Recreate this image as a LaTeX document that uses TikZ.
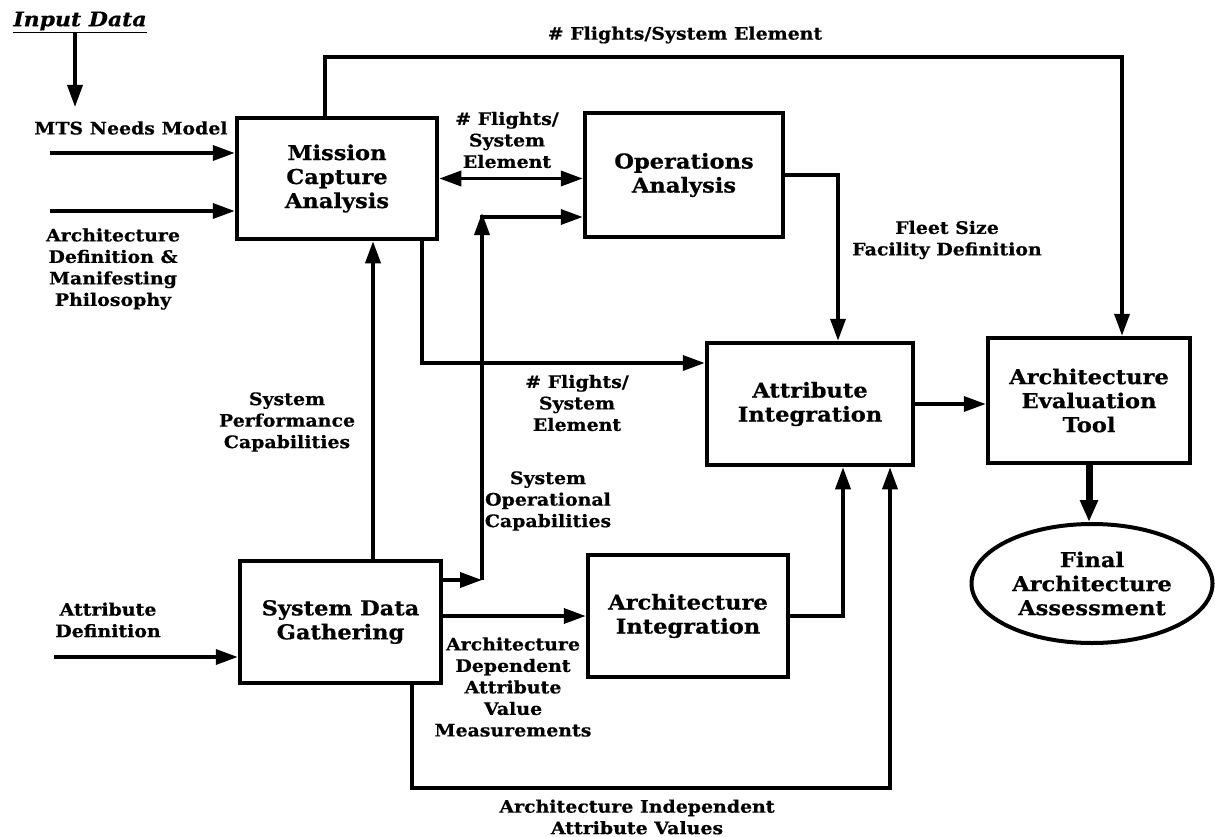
\documentclass[tikz,border=0pt]{standalone}
\usepackage{fontspec}
\setmainfont{DejaVu Serif}
\newfontfamily\heavy[FakeStretch=1.1,FakeBold=0.6]{DejaVu Serif}
\usetikzlibrary{arrows.meta,shapes.geometric}
\tikzset{
  box/.style={draw, line width=4.5pt, rectangle, align=center, inner sep=0pt,
    font=\heavy\bfseries\fontsize{20.5}{24}\selectfont},
  oval/.style={draw, line width=4pt, ellipse, align=center, inner sep=0pt,
    font=\heavy\bfseries\fontsize{20.5}{24}\selectfont},
  lbl/.style={align=center, inner sep=0pt, font=\heavy\bfseries\fontsize{17.2}{21.5}\selectfont},
  arr/.style={line width=3.6pt, -{Triangle[length=22pt,width=15pt]}},
  biarr/.style={line width=3.6pt, {Triangle[length=22pt,width=15pt]}-{Triangle[length=22pt,width=15pt]}},
  thickarr/.style={line width=7pt, -{Triangle[length=22pt,width=17pt]}},
}
\begin{document}
\begin{tikzpicture}[x=1pt,y=-1pt]
\useasboundingbox[fill=white] (0,0) rectangle (1215,837);

% boxes
\node[box, minimum width=200pt, minimum height=121pt] (mca) at (337,178.5) {Mission\\Capture\\Analysis};
\node[box, minimum width=198pt, minimum height=124pt] (ops) at (684,175) {Operations\\Analysis};
\node[box, minimum width=206pt, minimum height=122pt] (attr) at (810,404) {Attribute\\Integration};
\node[box, minimum width=202pt, minimum height=125pt] (aet) at (1089,400.5) {Architecture\\Evaluation\\Tool};
\node[box, minimum width=201pt, minimum height=122pt] (sdg) at (340.5,622) {System Data\\Gathering};
\node[box, minimum width=200pt, minimum height=122pt] (ai) at (688,616) {Architecture\\Integration};
\node[oval, minimum width=241pt, minimum height=119pt] (final) at (1092,583.5) {Final\\Architecture\\Assessment};

% input labels
\node[inner sep=0pt, font=\heavy\bfseries\itshape\fontsize{20}{22}\selectfont] (input) at (80,22) {\underline{Input Data}};
\node[lbl] (mtsl) at (131,128) {MTS Needs Model};
\node[lbl] (adl) at (113,269) {Architecture\\Definition \&\\Manifesting\\Philosophy};
\node[lbl] (attrdl) at (108,620) {Attribute\\Definition};

% connector labels
\node[lbl] (l1) at (685,35) {\# Flights/System Element};
\node[lbl] (l2) at (507,140) {\# Flights/\\System\\Element};
\node[lbl] (l3) at (947,240) {Fleet Size\\Facility Definition};
\node[lbl] (l4) at (577,403) {\# Flights/\\System\\Element};
\node[lbl] (l5) at (287,422) {System\\Performance\\Capabilities};
\node[lbl] (l6) at (548,501) {System\\Operational\\Capabilities};
\node[lbl] (l7) at (513,687) {Architecture\\Dependent\\Attribute\\Value\\Measurements};
\node[lbl] (l8) at (637,817) {Architecture Independent\\Attribute Values};

% helper coordinates
\coordinate (inEnd) at (75,107);
\coordinate (mtsS) at (50,153);
\coordinate (adS) at (50,211);
\coordinate (atS) at (54,657);
\coordinate (t1) at (325,57);
\coordinate (t2) at (1122,57);
\coordinate (j1) at (482,580);
\coordinate (j2) at (482,213);
\coordinate (j3) at (480,217);
\coordinate (v1) at (373,0);
\coordinate (k1) at (422,363);
\coordinate (k2) at (838,175);
\coordinate (k4) at (843,616);
\coordinate (b1) at (412,788);
\coordinate (b2) at (890,788);

% connectors
\draw[arr] (input.south -| inEnd) -- (inEnd);
\draw[arr] (mtsS) -- (mtsS -| mca.west);
\draw[arr] (adS) -- (adS -| mca.west);
\draw[arr] (atS) -- (atS -| sdg.west);
\draw[arr] (mca.north -| t1) -- (t1) -- (t2) -- (t2 |- aet.north);
\draw[biarr] (mca.east) -- (mca.east -| ops.west);
\draw[arr] (sdg.east |- j1) -- (j1);
\draw[arr] (j1) -- (j2);
\draw[arr] (j3) -- (j3 -| ops.west);
\draw[arr] (sdg.north -| v1) -- (mca.south -| v1);
\draw[arr] (mca.south -| k1) -- (k1) -- (k1 -| attr.west);
\draw[arr] (ops.east) -- (k2) -- (k2 |- attr.north);
\draw[arr] (attr.east) -- (attr.east -| aet.west);
\draw[thickarr] (aet.south) -- (aet.south |- final.north);
\draw[arr] (ai.west -| sdg.east) -- (ai.west);
\draw[arr] (ai.east) -- (k4) -- (k4 |- attr.south);
\draw[arr] (sdg.south -| b1) -- (b1) -- (b2) -- (b2 |- attr.south);
\end{tikzpicture}
\end{document}
